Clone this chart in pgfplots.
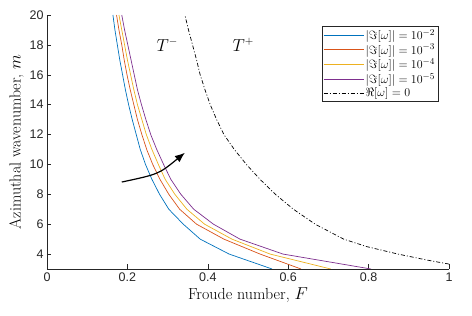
\documentclass[border=0pt]{standalone}
\usepackage{pgfplots}
\pgfplotsset{compat=1.18}
\usepackage{fontspec}
\newfontfamily\ticksf{Liberation Sans}
\usetikzlibrary{arrows.meta}
\definecolor{mblue}{rgb}{0,0.447,0.741}
\definecolor{mred}{rgb}{0.85,0.325,0.098}
\definecolor{myellow}{rgb}{0.929,0.694,0.125}
\definecolor{mpurple}{rgb}{0.494,0.184,0.556}
\definecolor{axgray}{rgb}{0.15,0.15,0.15}
\begin{document}
\begin{tikzpicture}
\begin{axis}[
  at={(0,0)}, anchor=south west,
  scale only axis, width=402pt, height=254pt,
  xmin=0, xmax=1, ymin=3, ymax=20,
  xtick={0,0.2,0.4,0.6,0.8,1},
  ytick={4,6,8,10,12,14,16,18,20},
  axis x line*=bottom, axis y line*=left,
  axis line style={axgray, line width=0.5pt},
  tick style={axgray, line width=0.5pt},
  tick align=inside, major tick length=4.5pt,
  /pgf/number format/assume math mode=true,
  tick label style={font=\ticksf\fontsize{12.5}{14}\selectfont, text=axgray},
  label style={font=\fontsize{16}{18}\selectfont},
  xlabel={Froude number, $F$},
  ylabel={Azimuthal wavenumber, $m$},
  xlabel style={yshift=1pt},
  ylabel style={yshift=-1pt},
  legend style={at={(rel axis cs:1,1)}, anchor=north east, xshift=-10.7pt, yshift=-11pt,
    draw=axgray, line width=0.5pt, font=\fontsize{12.5}{14.6}\selectfont, row sep=0pt, inner sep=1.5pt,
    nodes={inner sep=1.5pt}},
  legend cell align=left,
  legend image code/.code={\draw[#1] (0pt,0pt) -- (40pt,0pt);},
  every axis plot/.append style={line width=0.7pt},
]
\addplot[mblue] coordinates {(0.560,3)(0.453,4)(0.381,5)(0.339,6)(0.303,7)(0.280,8)(0.261,9)(0.245,10)(0.232,11)(0.222,12)(0.212,13)(0.203,14)(0.195,15)(0.188,16)(0.181,17)(0.175,18)(0.169,19)(0.164,20)};
\addlegendentry{$|\Im[\omega]| = 10^{-2}$}
\addplot[mred] coordinates {(0.632,3)(0.530,4)(0.440,5)(0.372,6)(0.330,7)(0.303,8)(0.281,9)(0.263,10)(0.248,11)(0.236,12)(0.225,13)(0.216,14)(0.207,15)(0.199,16)(0.192,17)(0.186,18)(0.179,19)(0.173,20)};
\addlegendentry{$|\Im[\omega]| = 10^{-3}$}
\addplot[myellow] coordinates {(0.706,3)(0.555,4)(0.460,5)(0.392,6)(0.348,7)(0.318,8)(0.294,9)(0.277,10)(0.261,11)(0.247,12)(0.236,13)(0.225,14)(0.216,15)(0.208,16)(0.200,17)(0.193,18)(0.186,19)(0.179,20)};
\addlegendentry{$|\Im[\omega]| = 10^{-4}$}
\addplot[mpurple] coordinates {(0.806,3)(0.587,4)(0.480,5)(0.414,6)(0.365,7)(0.333,8)(0.308,9)(0.290,10)(0.273,11)(0.258,12)(0.246,13)(0.235,14)(0.225,15)(0.217,16)(0.209,17)(0.201,18)(0.193,19)(0.186,20)};
\addlegendentry{$|\Im[\omega]| = 10^{-5}$}
\addplot[black, dash pattern=on 4pt off 2pt on 1pt off 2pt] coordinates {(1.0,3.33)(0.945,3.6)(0.873,4)(0.795,4.5)(0.738,5)(0.667,6)(0.613,7)(0.568,8)(0.530,9)(0.496,10)(0.466,11)(0.440,12)(0.422,13)(0.406,14)(0.393,15)(0.381,16)(0.372,17)(0.362,18)(0.352,19)(0.343,20)};
\addlegendentry{$\Re[\omega] = 0$}
\node[font=\fontsize{16}{18}\selectfont] at (axis cs:0.299,18) {$T^{-}$};
\node[font=\fontsize{16}{18}\selectfont] at (axis cs:0.488,18) {$T^{+}$};
\draw[black, line width=1.2pt, -{Latex[length=10pt,width=8pt]}] (axis cs:0.186,8.82) .. controls (axis cs:0.278,9.35) .. (axis cs:0.343,10.78);
\end{axis}
\pgfresetboundingbox
\useasboundingbox (-47pt,-47pt) rectangle (425pt,269pt);
\end{tikzpicture}
\end{document}
